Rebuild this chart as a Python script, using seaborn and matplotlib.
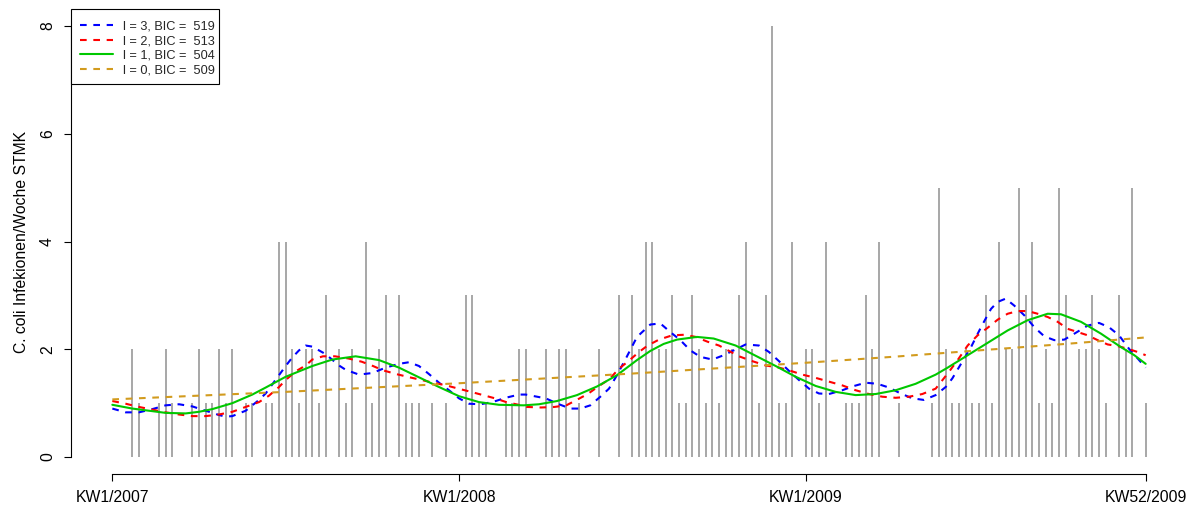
import numpy as np
import pandas as pd
import matplotlib
matplotlib.use("Agg")
import matplotlib.pyplot as plt
from matplotlib.patches import Rectangle
import seaborn as sns

# Weekly C. coli case counts, calendar weeks 2007-2009 (week index 1..156)
weeks = np.arange(1, 157)
cases = [
    0, 0, 0, 2, 1, 0, 0, 1, 2, 1,
    0, 0, 1, 2, 1, 1, 2, 1, 2, 0,
    1, 1, 0, 1, 1, 4, 4, 2, 1, 2,
    2, 1, 3, 0, 2, 1, 2, 0, 4, 1,
    2, 3, 0, 3, 1, 1, 1, 0, 1, 0,
    1, 0, 0, 3, 3, 1, 1, 0, 0, 1,
    1, 2, 2, 0, 0, 2, 1, 2, 2, 0,
    1, 0, 0, 2, 0, 0, 3, 0, 3, 2,
    4, 4, 2, 2, 3, 1, 1, 3, 2, 1,
    2, 1, 2, 2, 3, 4, 2, 1, 3, 8,
    1, 1, 4, 0, 2, 2, 1, 4, 0, 0,
    1, 1, 1, 3, 2, 4, 0, 0, 1, 0,
    0, 0, 0, 1, 5, 2, 1, 1, 2, 1,
    1, 3, 1, 4, 2, 2, 5, 3, 4, 1,
    2, 1, 5, 3, 0, 2, 2, 3, 2, 1,
    0, 3, 2, 5, 0, 1,
]

# Fitted seasonal models (expected cases per week) for l = 3, 2, 1, 0 harmonics
fit3_weeks = [1, 3, 5, 7, 9, 11, 13, 15, 17, 18, 19, 21, 23, 24, 25, 26, 27, 28, 29, 30,
              31, 33, 35, 36, 38, 40, 42, 44, 45.5, 47, 48.5, 50, 51.5, 53, 54.5, 56.2, 58, 60, 62, 63,
              66, 68, 69.7, 71.2, 72.7, 74.2, 75.5, 76.7, 78.2, 79.7, 81.7, 83.2, 84.7, 86.2, 87.7, 89.2,
              91, 92.7, 94.2, 96, 98, 99.5, 101, 102.5, 104, 105.5, 107, 108.5, 110.5, 112, 114, 115.75,
              117.5, 119.25, 121, 122.75, 124.5, 126, 127, 128.3, 129.8, 131.3, 132.8, 133.8, 135, 136.3,
              137.8, 139.3, 140.8, 142.3, 143.8, 145.3, 147.3, 149, 150.5, 152, 153.5, 154.8, 156]
fit3_vals = [0.90, 0.83, 0.83, 0.89, 0.96, 0.98, 0.94, 0.86, 0.78, 0.75, 0.76, 0.86, 1.06, 1.18, 1.35, 1.52, 1.69, 1.85, 1.98, 2.07,
             2.05, 1.91, 1.70, 1.62, 1.53, 1.56, 1.66, 1.73, 1.76, 1.69, 1.54, 1.38, 1.24, 1.09, 0.99, 0.98, 1.02, 1.10, 1.16, 1.16,
             1.09, 0.98, 0.90, 0.90, 0.96, 1.12, 1.27, 1.52, 1.87, 2.23, 2.46, 2.48, 2.32, 2.17, 1.98, 1.86,
             1.81, 1.89, 1.98, 2.09, 2.07, 1.95, 1.78, 1.60, 1.43, 1.27, 1.18, 1.17, 1.24, 1.31, 1.38, 1.36,
             1.29, 1.18, 1.09, 1.06, 1.15, 1.30, 1.46, 1.73, 2.04, 2.41, 2.75, 2.88, 2.94, 2.81,
             2.63, 2.41, 2.24, 2.17, 2.18, 2.29, 2.44, 2.49, 2.41, 2.26, 2.01, 1.83, 1.66]

fit2_weeks = [1, 3, 5, 7, 9, 11, 13, 15, 17, 19, 21, 23, 24.5, 26, 27, 28.5, 30, 31, 32.6, 34.4,
              36.4, 38.4, 40.1, 41.6, 43.6, 45.6, 47.4, 49.1, 51.1, 52.9, 54.8, 56.6, 58.4, 60.1, 62.3, 63.2,
              65.3, 67.3, 69.1, 70.8, 72.3, 74, 75.5, 77, 78.5, 80, 81.3, 83, 85, 86.8, 88.5, 90.3, 92, 93.8,
              95, 97, 99, 101, 102.5, 104.5, 106.5, 108.5, 110.5, 112.5, 114.5, 116.5, 118.5, 120.5, 122.5,
              124.5, 126.3, 127.8, 129.3, 130.8, 132.3, 133.8, 135.3, 136.8, 138.3, 139.8, 141.3, 142.8,
              144.3, 145.8, 147.3, 148.8, 150.3, 151.8, 153.3, 154.8, 156]
fit2_vals = [1.04, 0.99, 0.93, 0.88, 0.83, 0.79, 0.76, 0.76, 0.79, 0.84, 0.93, 1.02, 1.14, 1.30, 1.43, 1.59, 1.70, 1.81, 1.87, 1.87,
             1.83, 1.77, 1.69, 1.61, 1.54, 1.48, 1.43, 1.38, 1.33, 1.27, 1.21, 1.15, 1.09, 1.02, 0.96, 0.93,
             0.92, 0.93, 0.96, 1.07, 1.17, 1.32, 1.44, 1.64, 1.79, 1.95, 2.07, 2.18, 2.26, 2.27, 2.23, 2.14, 2.07, 1.95,
             1.87, 1.78, 1.70, 1.66, 1.61, 1.53, 1.47, 1.40, 1.33, 1.24, 1.17, 1.12, 1.10, 1.12, 1.17,
             1.27, 1.55, 1.80, 2.07, 2.26, 2.40, 2.55, 2.66, 2.71, 2.71, 2.66, 2.60, 2.51,
             2.38, 2.32, 2.26, 2.17, 2.09, 2.06, 2.01, 1.95, 1.89]

fit1_weeks = [1, 4, 9, 12, 14, 16, 19, 22, 24, 27, 31, 34, 37.5, 41, 44, 47, 50, 53, 56, 59,
              62.7, 65, 67.7, 70.7, 73.7, 76.7, 79.7, 81.7, 83.7, 85.7, 88.7, 91.2, 94.5, 97.5, 100.5,
              103.5, 106.5, 109.5, 112.5, 115.5, 118.5, 121.5, 124.5, 126.3, 129.3, 132.3, 135.3, 138.3,
              141.3, 143.3, 146.3, 149.3, 152.3, 154.3, 156]
fit1_vals = [0.97, 0.90, 0.82, 0.81, 0.84, 0.89, 1.00, 1.16, 1.29, 1.49, 1.69, 1.81, 1.87, 1.80, 1.66, 1.48, 1.30, 1.13, 1.02, 0.97,
             0.96, 0.98, 1.04, 1.15, 1.31, 1.52, 1.80, 1.97, 2.10, 2.18, 2.23, 2.20, 2.07, 1.88, 1.69,
             1.49, 1.32, 1.21, 1.15, 1.17, 1.24, 1.36, 1.53, 1.66, 1.89, 2.12, 2.35, 2.54,
             2.66, 2.65, 2.51, 2.29, 2.04, 1.89, 1.73]

fit0_weeks = [1, 14, 27, 40, 53, 66, 79, 92, 105, 118, 131, 144, 156]
fit0_vals = [1.07, 1.14, 1.21, 1.29, 1.37, 1.46, 1.55, 1.65, 1.75, 1.86, 1.98, 2.10, 2.22]

legend_labels = ["l = 3, BIC =  519", "l = 2, BIC =  513", "l = 1, BIC =  504", "l = 0, BIC =  509"]
tick_weeks = [1, 53, 105, 156]
tick_labels = ["KW1/2007", "KW1/2008", "KW1/2009", "KW52/2009"]
y_ticks = [0, 2, 4, 6, 8]

sns.set_theme(style="ticks")
plt.rcParams["font.family"] = ["Liberation Sans", "DejaVu Sans"]

W, H = 1189, 507
fig = plt.figure(figsize=(W / 100, H / 100), dpi=100)
fig.patch.set_facecolor("white")
left, right, top, bottom = 71, 1187, 8.8, 474.3
ax = fig.add_axes([left / W, 1 - bottom / H, (right - left) / W, (bottom - top) / H])
ax.set_facecolor("white")

# weekly counts as thin vertical strokes
ax.vlines(weeks, 0, cases, colors="#8f8f8f", linewidth=1.1)

dash = (0, (3.2, 3.2))
series = [
    (fit3_weeks, fit3_vals, "#0000FF", dash, legend_labels[0]),
    (fit2_weeks, fit2_vals, "#FF0000", dash, legend_labels[1]),
    (fit1_weeks, fit1_vals, "#00C800", "-", legend_labels[2]),
    (fit0_weeks, fit0_vals, "#D29B1E", dash, legend_labels[3]),
]
for xs, ys, col, ls, lab in series:
    df = pd.DataFrame({"week": xs, "value": ys})
    sns.lineplot(data=df, x="week", y="value", ax=ax, color=col, linestyle=ls,
                 linewidth=1.5, label=lab, sort=False, estimator=None)

ax.set_xlim(-5.2, 162.2)
ax.set_ylim(-0.32, 8.32)
sns.despine(ax=ax)
ax.spines["left"].set_bounds(0, 8)
ax.spines["bottom"].set_bounds(1, 156)
for s in ("left", "bottom"):
    ax.spines[s].set_linewidth(0.8)
    ax.spines[s].set_color("black")

ax.set_xticks(tick_weeks)
ax.set_xticklabels(tick_labels)
ax.set_yticks(y_ticks)
ax.set_yticklabels([str(v) for v in y_ticks])
ax.tick_params(axis="both", which="major", length=5, width=0.8, color="black",
               labelsize=11.3, labelcolor="black")
ax.tick_params(axis="x", pad=6)
ax.tick_params(axis="y", pad=6.5)
for lab in ax.get_yticklabels():
    lab.set_rotation(90)
    lab.set_va("center")
    lab.set_ha("right")

ax.set_xlabel("")
ax.set_ylabel("C. coli Infekionen/Woche STMK", fontsize=11.3, color="black")
ax.yaxis.set_label_coords(-0.038, 0.5)
ax.grid(False)

# legend: entries without their own frame, boxed at the top-left plot corner
leg = ax.legend(loc="upper left", bbox_to_anchor=(80 / W, 1 - 20.5 / H),
                bbox_transform=fig.transFigure, borderaxespad=0, borderpad=0,
                frameon=False, fontsize=9.2, handlelength=2.6, handletextpad=0.75,
                labelspacing=0.2)
box = Rectangle((left / W, 1 - 84 / H), (219 - left) / W, (84 - top) / H,
                transform=fig.transFigure, facecolor="white", edgecolor="black",
                linewidth=0.8, zorder=4.5, clip_on=False)
ax.add_patch(box)

fig.savefig("out.png", dpi=100, facecolor="white")
